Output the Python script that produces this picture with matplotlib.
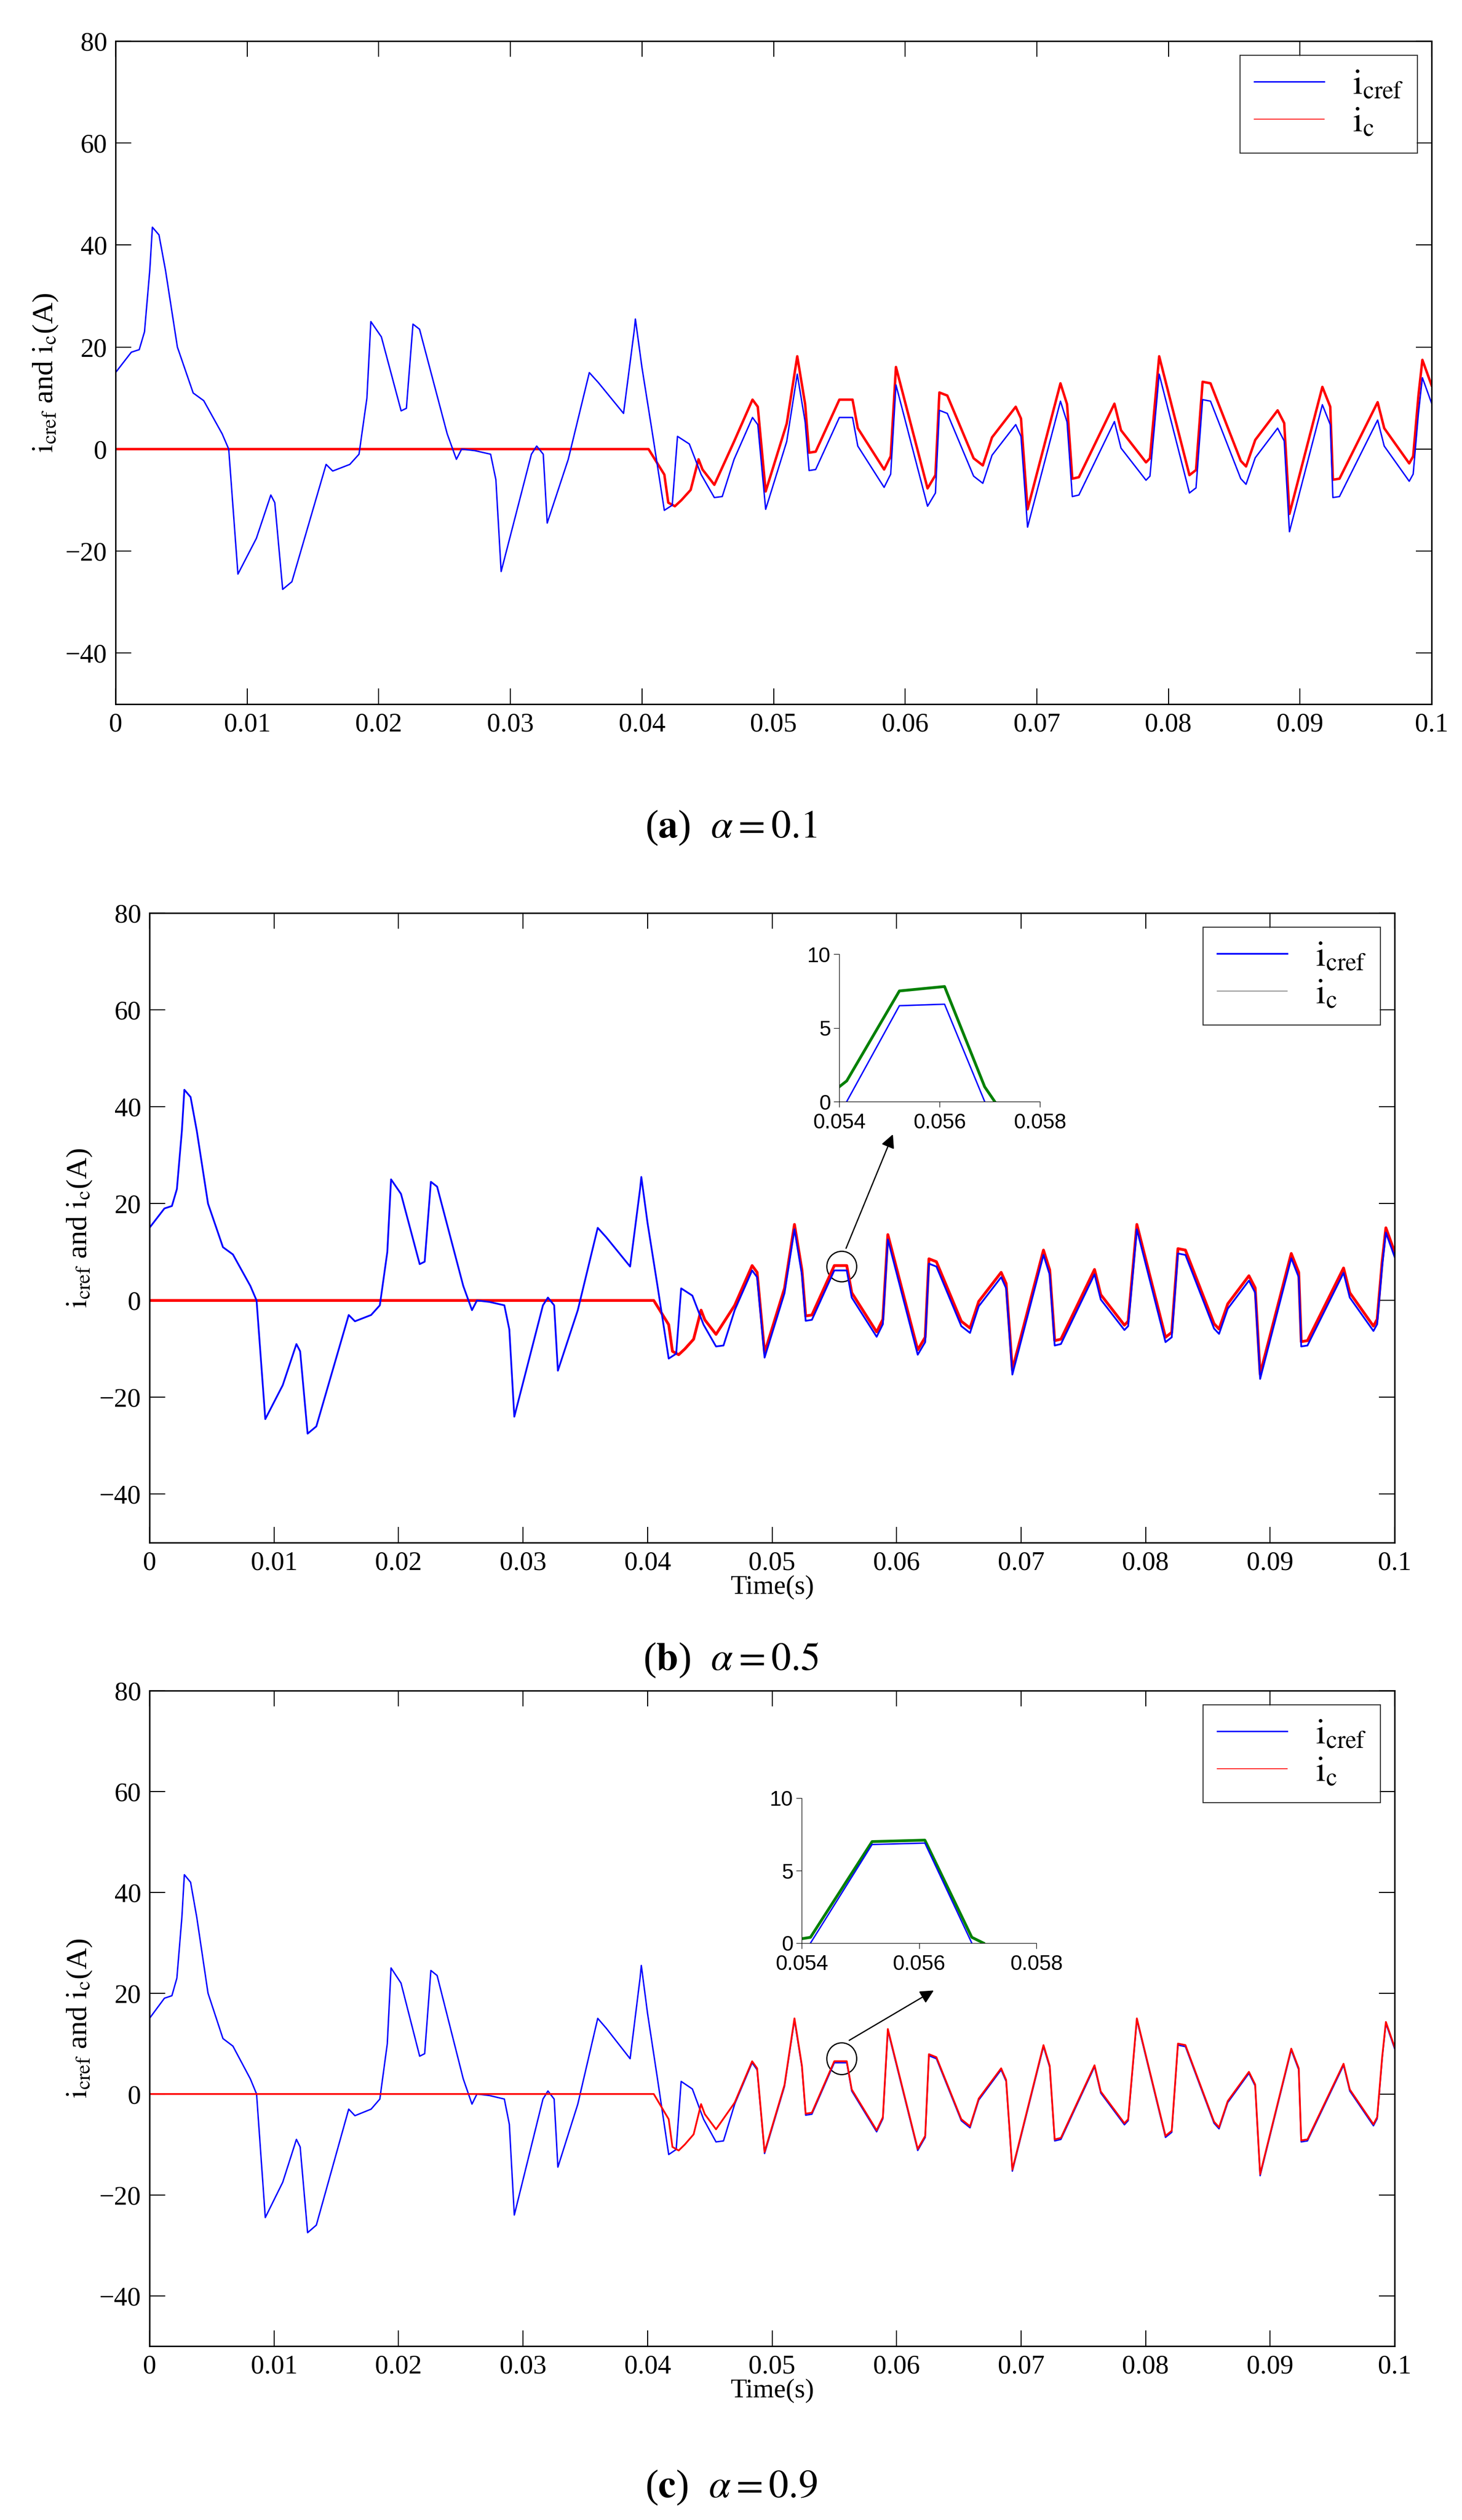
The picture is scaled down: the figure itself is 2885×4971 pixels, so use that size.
import numpy as np
import matplotlib.pyplot as plt
from matplotlib.patches import Ellipse

plt.rcParams["font.family"] = "Liberation Serif"
plt.rcParams["mathtext.fontset"] = "stix"

# reference current i_cref (same in all three cases)
t_ref = [0, 0.0012, 0.0018, 0.0022, 0.0026, 0.0028, 0.0033, 0.0038, 0.0047, 0.0059,
         0.0067, 0.0081, 0.0086, 0.0093, 0.0107, 0.0118, 0.0121, 0.0127, 0.0134, 0.016,
         0.0165, 0.0178, 0.0185, 0.0191, 0.0194, 0.0202, 0.0217, 0.0221, 0.0226, 0.0231,
         0.0252, 0.0259, 0.0263, 0.0273, 0.0285, 0.0289, 0.0293, 0.0316, 0.032, 0.0325,
         0.0328, 0.0344, 0.036, 0.0367, 0.0386, 0.0394, 0.0395, 0.040, 0.0408, 0.0417,
         0.0423, 0.0427, 0.0436, 0.0445, 0.0455, 0.0461, 0.047, 0.0484, 0.0488, 0.0494,
         0.051, 0.0518, 0.0524, 0.0527, 0.0532, 0.055, 0.056, 0.0564, 0.0584, 0.0589,
         0.0593, 0.0617, 0.0623, 0.0626, 0.0632, 0.0652, 0.0659, 0.0666, 0.0684, 0.0688,
         0.0693, 0.0718, 0.0723, 0.0727, 0.0732, 0.0759, 0.0764, 0.0783, 0.0786, 0.0793,
         0.0816, 0.0821, 0.0826, 0.0832, 0.0855, 0.0859, 0.0866, 0.0883, 0.0888, 0.0892,
         0.0917, 0.0923, 0.0925, 0.093, 0.0959, 0.0964, 0.0983, 0.0986, 0.099, 0.0993, 0.1]
i_ref = [15, 19, 19.5, 23, 35, 43.5, 42, 35, 20, 11,
         9.5, 3, 0, -24.5, -17.5, -9, -10.5, -27.5, -26, -3,
         -4.3, -3, -1, 10, 25, 22, 7.5, 8, 24.5, 23.5,
         3, -2, 0, -0.3, -1, -6, -24, -1, 0.6, -1,
         -14.5, -2, 15, 13, 7, 23, 25.5, 16, 3, -12,
         -11, 2.5, 1, -5, -9.5, -9.3, -2, 6.2, 4.8, -11.8,
         1.5, 14.7, 5.3, -4.2, -4, 6.2, 6.2, 0.6, -7.5, -4.9,
         12.6, -11.2, -8.6, 7.6, 7, -5.3, -6.7, -1.2, 4.8, 2.5,
         -15.3, 9.4, 5.3, -9.3, -9, 5.4, 0.2, -6.1, -5.3, 14.7,
         -8.6, -7.6, 9.7, 9.4, -5.8, -6.9, -1.7, 4.1, 1.6, -16.2,
         8.7, 4.8, -9.5, -9.3, 5.7, 0.6, -6.3, -4.9, 7, 14, 9]

# compensation current i_c: zero, then start-up transient, then tracks i_cref with an offset
t_start = [0, 0.0405, 0.0417, 0.042, 0.0425, 0.043, 0.0437, 0.0441, 0.0443, 0.0446, 0.0455]
i_start = [0, 0, -5, -10.5, -11.2, -10, -8, -4, -2, -4, -7]
t_track = 0.0462
offsets = {"a": 3.5, "b": 1.0, "c": 0.3}

# zoom-in windows
zoom_t = [0.0540, 0.05415, 0.0552, 0.0561, 0.0569, 0.0571]
zoom_ref_b = [np.nan, 0, 6.5, 6.6, 0, np.nan]
zoom_c_b = [1.0, 1.4, 7.5, 7.8, 1.0, 0]
zoom_ref_c = [np.nan, 0, 6.8, 6.9, 0, np.nan]
zoom_c_c = [0.3, 0.4, 7.0, 7.1, 0.4, 0]

fig = plt.figure(figsize=(28.85, 49.71), dpi=100)
W, H = 2885, 4971


def rect(x0, y0, x1, y1):
    return [x0 / W, 1 - y1 / H, (x1 - x0) / W, (y1 - y0) / H]


def ic_curve(off):
    tt = np.array(t_ref)
    mask = tt >= t_track
    t = list(t_start) + list(tt[mask])
    v = list(i_start) + list(np.array(i_ref)[mask] + off)
    return t, v


def main_axes(r, key, ic_col, ic_lw, ref_lw, leg_ic_col, xlabel):
    ax = fig.add_axes(r)
    t, v = ic_curve(offsets[key])
    if key == "c":
        ax.plot(t_ref, i_ref, color="blue", lw=ref_lw, label=r"$\mathrm{i_{cref}}$")
        ax.plot(t, v, color=ic_col, lw=ic_lw)
    else:
        ax.plot(t, v, color=ic_col, lw=ic_lw)
        ax.plot(t_ref, i_ref, color="blue", lw=ref_lw, label=r"$\mathrm{i_{cref}}$")
    ax.plot([], [], color=leg_ic_col, lw=1.2, label=r"$\mathrm{i_c}$")
    ax.set_xlim(0, 0.1)
    ax.set_ylim(-50, 80)
    ax.set_xticks(np.arange(0, 0.101, 0.01))
    ax.set_xticklabels(["0", "0.01", "0.02", "0.03", "0.04", "0.05", "0.06", "0.07", "0.08", "0.09", "0.1"])
    ax.set_yticks(range(-40, 81, 20))
    ax.tick_params(direction="in", top=True, right=True, labelsize=38, length=22, width=1.5, pad=12)
    for s in ax.spines.values():
        s.set_linewidth(2)
    ax.set_ylabel(r"$\mathrm{i_{cref}}$ and $\mathrm{i_c}$(A)", fontsize=42, labelpad=8)
    if xlabel:
        ax.set_xlabel("Time(s)", fontsize=38, labelpad=0)
    leg = ax.legend(loc="upper right", fontsize=50, fancybox=False, edgecolor="black",
                    handlelength=2.0, borderaxespad=0.4, labelspacing=0.15)
    leg.get_frame().set_linewidth(1.5)
    return ax


def inset(r, zr, zc):
    ax = fig.add_axes(r)
    ax.plot(zoom_t, zc, color="green", lw=4)
    ax.plot(zoom_t, zr, color="blue", lw=2)
    ax.set_xlim(0.054, 0.058)
    ax.set_ylim(0, 10)
    ax.set_xticks([0.054, 0.056, 0.058])
    ax.set_xticklabels(["0.054", "0.056", "0.058"], family="Liberation Sans")
    ax.set_yticks([0, 5, 10])
    ax.set_yticklabels(["0", "5", "10"], family="Liberation Sans")
    ax.tick_params(direction="out", labelsize=30, length=8)
    ax.tick_params(axis="x", pad=8)
    ax.tick_params(axis="y", pad=4)
    ax.spines["top"].set_visible(False)
    ax.spines["right"].set_visible(False)
    ax.patch.set_alpha(0)


ax_a = main_axes(rect(228, 81, 2825, 1389), "a", "red", 3.5, 2.0, "red", False)
fig.text(0.5, 1 - 1633 / H, r"($\mathbf{a}$)  $\alpha = 0.1$", ha="center", va="center", fontsize=56)

ax_b = main_axes(rect(295, 1801, 2752, 3043), "b", "red", 4.0, 2.5, "gray", True)
inset(rect(1656, 1882, 2052, 2173), zoom_ref_b, zoom_c_b)
ax_b.add_patch(Ellipse((0.0556, 7), 0.0024, 6.3, fill=False, lw=1.8, color="black"))
ax_b.annotate("", xy=(1763 / W, 1 - 2235 / H), xycoords="figure fraction",
              xytext=(0.0559, 10.5), textcoords="data",
              arrowprops=dict(arrowstyle="-|>", color="black", lw=1.8, mutation_scale=40))
fig.text(0.5, 1 - 3275 / H, r"($\mathbf{b}$)  $\alpha = 0.5$", ha="center", va="center", fontsize=56)

ax_c = main_axes(rect(295, 3335, 2752, 4628), "c", "red", 2.5, 2.0, "red", True)
inset(rect(1582, 3547, 2045, 3833), zoom_ref_c, zoom_c_c)
ax_c.add_patch(Ellipse((0.0556, 7), 0.0024, 6.3, fill=False, lw=1.8, color="black"))
ax_c.annotate("", xy=(1845 / W, 1 - 3925 / H), xycoords="figure fraction",
              xytext=(0.0561, 10.5), textcoords="data",
              arrowprops=dict(arrowstyle="-|>", color="black", lw=1.8, mutation_scale=40))
fig.text(0.5, 1 - 4907 / H, r"($\mathbf{c}$)  $\alpha = 0.9$", ha="center", va="center", fontsize=56)

plt.savefig("out.png", dpi=100)
